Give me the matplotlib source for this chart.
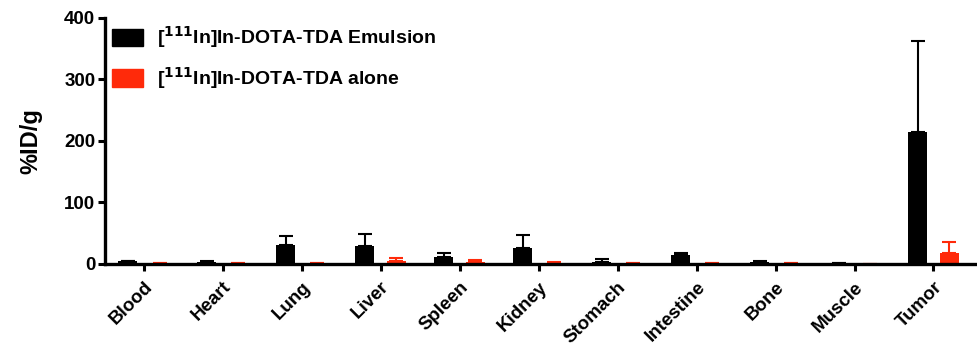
import numpy as np
import matplotlib
matplotlib.use("Agg")
import matplotlib.pyplot as plt
from matplotlib.patches import Patch

plt.rcParams['font.family'] = ['Liberation Sans', 'DejaVu Sans']
plt.rcParams['font.weight'] = 'bold'

# organ uptake (%ID/g), mean and upper SD
organs = ["Blood", "Heart", "Lung", "Liver", "Spleen", "Kidney",
          "Stomach", "Intestine", "Bone", "Muscle", "Tumor"]
emulsion = [4, 3, 30, 29, 12, 26, 3, 14, 3, 1.5, 215]
emulsion_sd = [1, 1, 15, 19, 5, 21, 5, 4, 1, 0.5, 147]
alone = [1, 0.8, 1, 5, 3, 2, 1, 0.8, 0.8, 0.3, 18]
alone_sd = [0.5, 0.3, 0.5, 4, 3, 1, 0.5, 0.3, 0.3, 0.2, 18]

red = "#ff2a0a"
x = np.arange(len(organs))
off = 0.2
w = 0.24

fig = plt.figure(figsize=(9.77, 3.45), dpi=100)
ax = fig.add_axes([0.1075, 0.235, 0.89, 0.713])

ax.bar(x - off, emulsion, width=w, color="black", zorder=2)
ax.bar(x + off, alone, width=w, color=red, zorder=2)
ax.errorbar(x - off, emulsion, yerr=[np.zeros(len(x)), emulsion_sd], fmt="none",
            ecolor="black", elinewidth=1.5, capsize=5, capthick=1.5, zorder=1)
ax.errorbar(x + off, alone, yerr=[np.zeros(len(x)), alone_sd], fmt="none",
            ecolor=red, elinewidth=1.5, capsize=5, capthick=1.5, zorder=1)

ax.set_xlim(-0.49, 10.52)
ax.set_ylim(0, 400)
ax.set_yticks([0, 100, 200, 300, 400])
ax.set_xticks(x)
ax.set_xticklabels(organs, rotation=45, ha="right", rotation_mode="anchor",
                   fontsize=13.5, fontweight="bold")
for lab in ax.get_yticklabels():
    lab.set_fontweight("bold")
ax.tick_params(axis="both", direction="out", length=5, width=2.2)
ax.tick_params(axis="y", pad=2, labelsize=13.5)
ax.tick_params(axis="x", pad=5.5)
ax.set_ylabel("%ID/g", fontsize=17, fontweight="bold", labelpad=16)

for s in ["top", "right"]:
    ax.spines[s].set_visible(False)
for s in ["left", "bottom"]:
    ax.spines[s].set_linewidth(2.4)

handles = [Patch(color="black", label=r"[$^{\mathbf{111}}$In]In-DOTA-TDA Emulsion"),
           Patch(color=red, label=r"[$^{\mathbf{111}}$In]In-DOTA-TDA alone")]
ax.legend(handles=handles, loc="upper left", bbox_to_anchor=(-0.012, 1.045), frameon=False,
          prop={"weight": "bold", "size": 14}, handlelength=1.6, handleheight=1.0,
          handletextpad=0.7, labelspacing=0.75)

fig.savefig("out.png", dpi=100)
